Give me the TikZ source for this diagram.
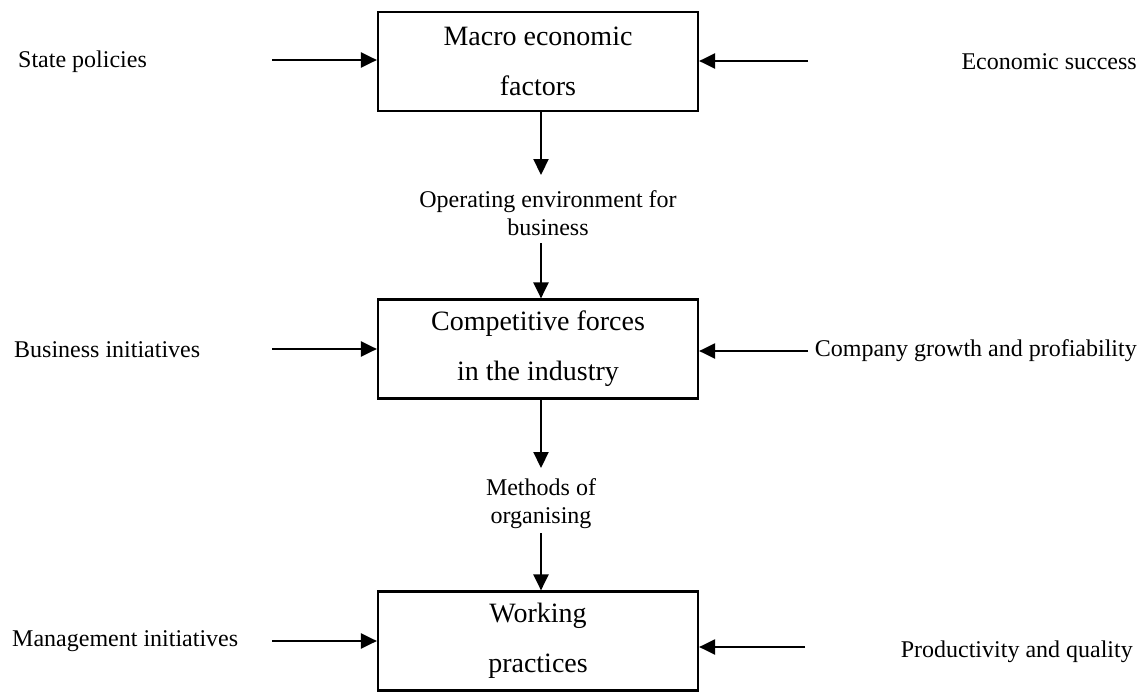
\documentclass[tikz,border=0pt]{standalone}
\usepackage{fontspec}
\setmainfont{Liberation Serif}
\usetikzlibrary{arrows.meta}
\begin{document}
\begin{tikzpicture}[x=1pt,y=-1pt,
  box/.style={draw,line width=2.2pt,minimum width=320pt,minimum height=99pt,
    align=center,inner sep=0pt,font=\fontsize{28}{50}\selectfont},
  lbl/.style={inner sep=0pt,font=\fontsize{24}{28}\selectfont},
  mid/.style={inner sep=0pt,align=center,font=\fontsize{24}{28}\selectfont},
  arr/.style={line width=2.2pt,-{Triangle[length=16pt,width=15pt]}}]
\useasboundingbox (0,0) rectangle (1144,693);

% the three levels
\node[box] (m1) at (538,61.5) {Macro economic\\factors};
\node[box] (m2) at (538,349) {Competitive forces\\in the industry};
\node[box] (m3) at (538,641) {Working\\practices};

% side labels
\node[lbl,anchor=west] (l1) at (18,62) {State policies};
\node[lbl,anchor=west] (l2) at (14,350) {Business initiatives};
\node[lbl,anchor=west] (l3) at (12,641) {Management initiatives};
\node[lbl,anchor=east] (r1) at (1137,62) {Economic success};
\node[lbl,anchor=east] (r2) at (1137,351) {Company growth and profiability};
\node[lbl,anchor=east] (r3) at (1133,652) {Productivity and quality};

% free ends of the side arrows
\coordinate (sl1) at (272,60);
\coordinate (sl2) at (272,349);
\coordinate (sl3) at (272,641);
\coordinate (sr1) at (808,61);
\coordinate (sr2) at (808,351);
\coordinate (sr3) at (805,647);

\draw[arr] (sl1) -- (sl1 -| m1.west);
\draw[arr] (sr1) -- (sr1 -| m1.east);
\draw[arr] (sl2) -- (sl2 -| m2.west);
\draw[arr] (sr2) -- (sr2 -| m2.east);
\draw[arr] (sl3) -- (sl3 -| m3.west);
\draw[arr] (sr3) -- (sr3 -| m3.east);

% links between the levels
\node[mid] (op) at (548,213) {Operating environment for\\business};
\node[mid] (mo) at (541,504) {Methods of\\organising};
\coordinate (d1) at (541,175);
\coordinate (d2) at (541,468);
\coordinate (u1) at (541,243);
\coordinate (u2) at (541,533);

\draw[arr] (d1 |- m1.south) -- (d1);
\draw[arr] (u1) -- (u1 |- m2.north);
\draw[arr] (d2 |- m2.south) -- (d2);
\draw[arr] (u2) -- (u2 |- m3.north);
\end{tikzpicture}
\end{document}
